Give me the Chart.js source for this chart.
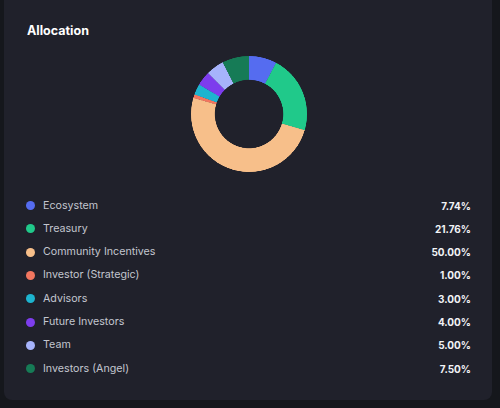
<!DOCTYPE html>
<html>
<head>
<meta charset="utf-8">
<script src="https://cdn.jsdelivr.net/npm/chart.js@4.4.1/dist/chart.umd.min.js"></script>
<style>
  html, body { margin: 0; padding: 0; }
  body {
    width: 500px; height: 408px; overflow: hidden;
    background: #15171c;
    font-family: Inter, "Noto Sans", sans-serif;
    position: relative;
  }
  .card {
    position: absolute; left: 4px; top: -10px; width: 488px; height: 410px;
    background: #20212b; border-radius: 8px;
  }
  .title {
    position: absolute; left: 27px; top: 22px;
    color: #ffffff; font-weight: 700; font-size: 12.5px; line-height: 18px;
  }
  .chart-box {
    position: absolute; left: 191px; top: 56px; width: 116px; height: 116px;
  }
  .legend { position: absolute; left: 0; top: 0; width: 500px; }
  .row {
    position: absolute; left: 0; width: 500px; height: 16px;
  }
  .dot {
    position: absolute; left: 26px; top: 3.5px; width: 9px; height: 9px; border-radius: 50%;
  }
  .lbl {
    position: absolute; left: 43px; top: 0; line-height: 16px;
    font-size: 10.7px; color: #c3c6cf;
  }
  .val {
    position: absolute; right: 29px; top: 0; line-height: 16px;
    font-size: 10px; font-weight: 700; color: #f2f3f6;
  }
</style>
</head>
<body>
<div class="card"></div>
<div class="title">Allocation</div>
<div class="chart-box"><canvas id="allocation"></canvas></div>
<div class="legend" id="legend"></div>

<script>
(function () {
    "use strict";

    const labels = ['Ecosystem', 'Treasury', 'Community Incentives', 'Investor (Strategic)',
                    'Advisors', 'Future Investors', 'Team', 'Investors (Angel)'];
    const shares = [7.74, 21.76, 50.00, 1.00, 3.00, 4.00, 5.00, 7.50];
    const colors = ['#556cf0', '#20c98a', '#f7bf8a', '#f2765f',
                    '#1db4cf', '#7d3ded', '#a6b3fb', '#167b56'];

    const ctx = document.getElementById('allocation');
    new Chart(ctx, {
        type: 'doughnut',
        data: {
            labels: labels,
            datasets: [{
                data: shares,
                backgroundColor: colors,
                borderWidth: 0,
                hoverOffset: 0
            }]
        },
        options: {
            responsive: false,
            maintainAspectRatio: false,
            animation: false,
            cutout: '59%',
            layout: { padding: 0 },
            plugins: {
                legend: { display: false },
                tooltip: { enabled: false }
            }
        }
    });
    ctx.style.width = '116px';
    ctx.style.height = '116px';

    // legend list built from the same arrays
    const legend = document.getElementById('legend');
    labels.forEach(function (name, i) {
        const row = document.createElement('div');
        row.className = 'row';
        row.style.top = (197.5 + i * 23.33) + 'px';
        row.innerHTML = '<span class="dot" style="background:' + colors[i] + '"></span>' +
            '<span class="lbl">' + name + '</span>' +
            '<span class="val">' + shares[i].toFixed(2) + '%</span>';
        legend.appendChild(row);
    });
}());
</script>
</body>
</html>
